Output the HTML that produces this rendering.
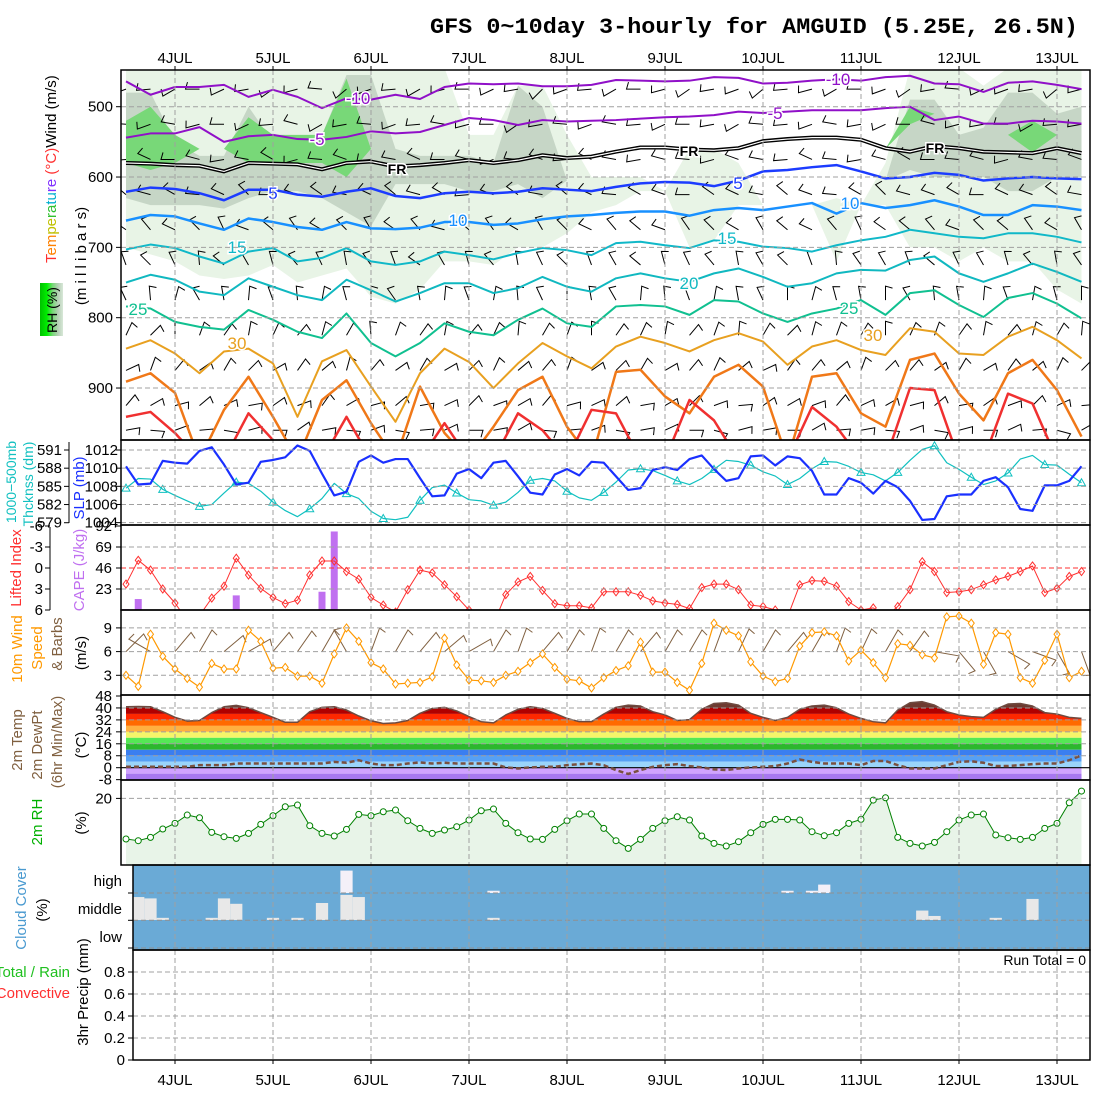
<!DOCTYPE html>
<html><head><meta charset="utf-8"><title>GFS meteogram</title>
<style>
html,body{margin:0;padding:0;background:#fff;}
svg{display:block;font-family:"Liberation Sans",sans-serif;}
</style></head>
<body>
<svg id="chart" width="1100" height="1100" viewBox="0 0 1100 1100" xmlns="http://www.w3.org/2000/svg">
<defs>
<clipPath id="clipMain"><rect x="121" y="70" width="969" height="370"/></clipPath>
<linearGradient id="rhGrad" x1="0" x2="1" y1="0" y2="0">
<stop offset="0" stop-color="#00c000"/><stop offset="0.3" stop-color="#00ee00"/><stop offset="0.55" stop-color="#78d878"/><stop offset="0.8" stop-color="#b8d0b8"/><stop offset="1" stop-color="#d8e8d8"/>
</linearGradient>
</defs>
<text x="430" y="33" font-family="Liberation Mono, monospace" font-weight="bold" font-size="22" textLength="648" lengthAdjust="spacingAndGlyphs">GFS 0~10day 3-hourly for AMGUID (5.25E, 26.5N)</text>
<g id="bg"></g>
<g id="main" clip-path="url(#clipMain)"></g>
<g id="panels"></g>
<g id="grid"></g>
<g id="frames"></g>
<g id="labels"></g>
</svg>
<script>
// ---------- DATA ----------
const days = ['4JUL','5JUL','6JUL','7JUL','8JUL','9JUL','10JUL','11JUL','12JUL','13JUL'];
const pressTicks = [500,600,700,800,900];
const slpTicks = [1012,1010,1008,1006,1004];
const thickTicks = [591,588,585,582,579];
const liTicks = [-6,-3,0,3,6];
const capeTicks = [92,69,46,23];
const windTicks = [9,6,3];
const tempTicks = [48,40,32,24,16,8,0,-8];
const rhTicks = [20];
const precipTicks = [0,0.2,0.4,0.6,0.8];
const cloudLabels = ['high','middle','low'];

const slp = [1010.2,1008.2,1008.3,1010.8,1010.6,1010.5,1011.9,1012.3,1010.4,1008.2,1008.4,1010.7,1010.9,1011.2,1012.5,1011.9,1009.4,1007.0,1007.4,1010.7,1011.4,1010.6,1011.0,
1011.0,1008.9,1006.9,1007.0,1009.4,1009.9,1008.9,1010.6,1010.8,1009.1,1007.3,1007.1,1009.3,1009.9,1009.2,1010.7,1010.6,1009.1,1007.6,1007.8,1009.8,1010.1,1009.8,1011.0,1011.4,1009.9,1008.6,1008.9,
1011.3,1011.4,1010.3,1011.3,1011.1,1009.7,1007.1,1007.1,1008.9,1008.4,1007.2,1008.6,1007.9,1006.4,1004.3,1004.4,1006.9,1007.1,1007.1,1008.6,1009.0,1007.9,1005.5,1005.3,1008.1,1008.1,1008.6,1010.2];
const thick = [584.7,586.3,586.2,584.5,583.5,582.6,581.7,582.0,583.9,585.7,585.5,584.2,582.4,581.0,580.0,581.3,583.0,585.5,583.8,583.0,580.9,579.7,579.5,
579.9,582.7,584.8,585.2,583.9,582.8,582.6,581.9,582.4,584.0,586.0,586.3,585.9,584.2,583.1,582.7,584.0,585.7,587.7,587.9,587.6,586.8,585.9,585.3,586.3,587.8,589.3,589.1,
588.5,587.4,586.7,585.3,586.3,587.9,589.1,589.0,588.3,587.3,586.9,585.9,587.3,589.3,591.1,591.7,588.9,587.8,586.5,585.3,585.9,587.2,589.5,590.1,588.6,588.5,587.0,585.6];
const li = [2.3,-1.1,0.3,3.0,5.0,7.5,6.8,4.3,2.6,-1.4,1.0,2.9,4.2,5.1,4.6,1.0,-1.0,-1.0,0.5,1.6,4.2,5.3,6.3,
3.1,0.3,0.7,2.4,4.1,6.0,8,8,3.8,2.0,1.2,3.2,5.1,5.4,5.4,5.7,3.4,3.4,3.4,3.9,4.7,5.0,5.2,5.8,2.8,2.3,2.3,3.1,
5.3,5.5,6.0,7,2.4,1.8,1.9,2.6,4.8,6.0,5.7,7,5.5,3.1,-0.9,0.5,3.5,3.4,3.1,2.4,1.7,1.2,0.5,-0.3,3.5,2.9,1.2,0.5];
const cape = [1,12,0,0,0,0,0,0,0,16,0,0,0,0,0,0,20,86,0,0,0,0,0,
0,0,0,0,0,0,0,0,0,0,0,0,0,0,0,0,0,0,0,0,0,0,0,0,0,0,0,0,
0,0,0,0,0,0,0,0,0,0,0,0,0,0,0,0,0,0,0,0,0,0,0,0,0,0,0,0];
const wind = [3.0,1.6,8.2,5.4,3.8,2.6,1.5,4.5,3.8,3.8,8.7,7.3,3.9,4.0,2.9,2.9,2.0,5.7,9.0,7.3,4.6,3.8,1.9,
2.0,2.1,2.8,7.7,4.3,2.4,2.3,2.1,3.0,3.5,4.6,5.7,4.0,2.5,2.3,1.4,2.7,3.6,4.2,7.2,3.4,3.4,2.1,1.1,4.5,9.6,8.7,8.0,
4.7,2.9,2.2,2.6,6.7,8.4,8.5,8.0,4.8,6.2,4.6,2.7,7.0,6.8,5.6,5.2,10.4,10.5,9.6,4.4,8.4,8.2,2.7,2.0,4.9,8.2,2.7,3.5];
const windDir10m = [45,300,40,30,50,60,40,35,30,330,20,30,40,50,60,30,20,40,30,20,30,40,30,30,20,25,30,40,30,20,25,30,35,100,140,150,120,110,150,160];
const temp = [40.8,41,40.8,37.5,33.7,31.2,31.6,36.9,40.8,41.7,40.1,36.9,33.7,30.4,30.4,37.5,40.4,40.8,38.6,34.6,31.4,29.6,30.0,
31.6,36.4,39.7,40.4,38,34.2,30.8,30.0,35.3,39.1,40.8,39.7,36.4,33,30.8,30.8,35.9,40.4,41.9,41.3,37.5,35.3,31.6,32.2,39.1,43,43.5,41.9,
36.4,33.7,31.6,33.7,39.1,41.3,41.9,40.1,35.9,33,30.8,30,38.6,43.5,44.2,41.9,37.5,35.3,34.2,33.7,39.1,42.6,43,41.3,36.9,35.9,33.7,33];
const dew = [0.6,0.6,0.6,0.6,0.6,0.6,1.7,1.7,1.7,2.8,2.8,2.8,2.8,2.8,2.8,2.8,2.8,3.9,3.3,5.0,2.8,1.7,1.7,
2.8,3.5,2.8,3.3,2.8,2.8,2.8,2.8,0.2,-0.5,0.2,0.6,0.6,1.7,2.4,2.8,1.7,-1.6,-4.2,-1.6,0.6,1.7,2.4,1.1,0.2,-1.1,-1.6,-0.5,
0.2,0.6,1.1,2.8,5.5,3.9,2.8,2.8,2.8,1.7,4.5,4.5,1.7,-0.5,-0.5,-0.5,1.7,3.9,4.3,3.3,1.1,1.1,1.7,2.4,2.8,2.8,5.0,8.3];
const rh2m = [7.8,7.3,8.3,10.8,12.5,15,14.2,9.8,8.5,8,9.5,12.2,14.8,17.5,18,11.8,9.5,8.7,10.7,15.2,14.8,16,16.5,
13.3,11,9.5,10.5,11.5,13.5,16.3,16.8,12.5,9.7,7.8,7.7,10.7,13.3,15.3,15.3,11,7.3,5,7.7,11,13.3,14.5,13.5,8.7,6.5,5.7,7,
9.7,12.2,13.7,13.7,13.5,10,8.8,9.7,12.5,13.7,19.5,20.2,8.3,6.5,5.7,6.8,10,13.5,15,15.3,9,8.2,7.7,8.3,11,12.5,18.7,22.2];
const midCloud = [0,.85,.8,.08,0,0,0,.08,.8,.6,0,0,.08,0,.08,0,.63,0,.93,.85,0,0,0,0,0,0,0,0,0,0,.08,0,0,0,0,0,0,0,0,0,
0,0,0,0,0,0,0,0,0,0,0,0,0,0,0,0,0,0,0,0,0,0,0,0,0,.35,.15,0,0,0,0,.08,0,0,.78,0,0,0,0];
const highCloud = [0,0,0,0,0,0,0,0,0,0,0,0,0,0,0,0,0,0,.8,0,0,0,0,0,0,0,0,0,0,0,.08,0,0,0,0,0,0,0,0,0,
0,0,0,0,0,0,0,0,0,0,0,0,0,0,.08,0,.08,.3,0,0,0,0,0,0,0,0,0,0,0,0,0,0,0,0,0,0,0,0,0];

// isotherm pressures (mb) every 6 hours
const isoM10 = [464,483,472,472,469,486,476,486,502,488,490,483,489,472,467,468,467,471,471,469,462,463,464,463,458,459,467,466,463,461,463,458,456,467,468,479,466,464,469,475];
const isoM5 = [544,538,538,529,550,542,540,546,547,543,535,538,536,526,516,519,526,519,521,520,519,517,515,514,512,507,509,507,505,505,505,502,500,519,514,524,524,520,521,524];
const isoFR = [580,581,583,584,592,580,581,582,589,580,578,585,583,580,576,580,576,569,573,571,564,558,558,561,562,559,549,546,544,544,547,559,564,556,559,564,565,566,559,566];
const iso5 = [621,615,617,623,633,618,618,625,628,621,616,627,630,623,621,623,621,616,618,620,614,609,607,608,613,605,592,590,586,583,592,602,600,594,597,605,602,600,602,603];
const iso10 = [662,654,656,666,675,659,664,671,675,664,673,674,672,664,664,668,666,660,656,654,651,649,649,655,647,644,647,642,637,652,637,644,640,633,642,654,654,640,642,647];
const iso15 = [703,696,701,713,723,706,701,720,715,701,720,725,720,706,711,717,708,701,704,711,694,692,697,701,690,692,699,701,706,697,690,685,675,680,685,687,680,680,685,693];
const iso20 = [750,739,746,763,768,744,756,768,775,746,761,777,765,751,751,765,758,742,756,763,744,737,744,749,737,730,742,756,751,737,732,733,718,713,737,749,737,723,735,749];
const iso25 = [784,787,806,813,817,789,803,820,829,794,836,855,836,808,820,825,803,787,808,813,784,782,784,796,775,777,794,806,794,787,775,796,765,761,782,799,772,765,780,801];
const iso30 = [844,832,851,879,848,844,865,941,862,846,898,948,879,844,863,900,865,836,855,872,841,827,836,848,832,822,834,867,841,832,846,853,815,820,851,853,827,813,832,858];
const iso35 = [891,879,907,1002,931,884,941,1002,917,889,950,1002,898,964,1002,955,903,884,955,1002,877,874,912,936,884,867,898,1002,884,879,936,955,860,851,908,946,879,860,903,969];
const iso40 = [941,934,964,1002,1002,936,974,1002,1002,941,1002,1002,1002,950,1002,1002,936,960,1002,931,936,1002,1002,917,946,1002,1002,1002,927,955,1002,1002,900,903,1002,1002,908,922,1002,1002];

// RH shading boundaries (mb) every 6 hours
const rh30Top = [445,445,445,445,445,445,445,445,445,445,445,445,445,445,540,540,470,470,540,600,600,600,620,560,560,580,640,640,640,630,640,580,445,445,445,470,445,445,445,445];
const rh30Bot = [700,710,720,740,745,740,725,750,740,730,770,780,760,720,720,725,700,700,680,650,640,620,620,700,690,640,640,640,640,720,640,640,700,700,720,700,720,720,760,780];
const rh50Top = [480,480,550,570,570,500,550,550,540,455,455,560,570,570,570,580,470,500,605,605,605,605,605,605,605,605,605,605,605,605,605,605,490,490,540,530,480,480,510,500];
const rh50Bot = [630,640,640,640,645,630,620,620,630,650,670,610,610,610,620,620,610,630,605,605,605,605,605,605,605,605,605,605,605,605,605,605,590,600,600,600,620,620,600,600];
const rh70Top = [520,500,540,560,560,515,540,540,540,460,560,560,560,560,560,560,560,560,560,560,560,560,560,560,560,560,560,560,560,560,560,560,500,510,540,540,540,520,540,540];
const rh70Bot = [580,590,580,560,560,580,580,580,580,600,560,560,560,560,560,560,560,560,560,560,560,560,560,560,560,560,560,560,560,560,560,560,525,510,540,540,540,565,540,540];

const barbLevels = [475,525,575,625,675,725,775,825,875,925,960];
const barbDirs = [250,260,275,290,310,330,350,20,40,60,80];
const barbShift = [0,15,-10,20,-5,10,-15,5,25,-20,0,15,-10,5,20,-5,10,-25,0,15,-10,20,5,-15,10,0,-20,15,5,-10,20,0,-15,10,25,-5,0,10,-20,5];

const contourLabels = [['-10',358,104,'#9010c8'],['-10',838,85,'#9010c8'],['-5',317,145,'#9010c8'],['-5',775,119,'#9010c8'],['FR',397,174,'#000'],['FR',689,156,'#000'],['FR',935,153,'#000'],
['5',273,199,'#1c3cff'],['5',738,189,'#1c3cff'],['10',458,226,'#1890ff'],['10',850,209,'#1890ff'],['15',237,253,'#10b8c8'],['15',727,244,'#10b8c8'],['20',689,289,'#10b8c0'],['25',138,315,'#10c090'],['25',849,314,'#10c090'],['30',237,349,'#e8a020'],['30',873,341,'#e8a020']];

// ---------- SCALES ----------
const X0=126, DX=12.25;
function xI(i){return X0+i*DX;}
function xK(k){return X0+k*2*DX;}
function yP(p){return 106.7+(p-500)*0.7033;}
function ySLP(v){return 450+(1012-v)*9.08;}
function yTh(v){return 450+(591-v)*6.06;}
function yLI(v){return 568+7*v;}
function yCape(v){return 610-v*84/92;}
function yW(v){return 699-7.9*v;}
function yT(v){return 767.7-1.494*v;}
function yRH(v){return 865-3.33*v;}
function yPr(v){return 1060-110*v;}

const NS='http://www.w3.org/2000/svg';
function el(tag,attrs,parent){const e=document.createElementNS(NS,tag);for(const k in attrs)e.setAttribute(k,attrs[k]);parent.appendChild(e);return e;}
const G={bg:document.getElementById('bg'),main:document.getElementById('main'),panels:document.getElementById('panels'),grid:document.getElementById('grid'),frames:document.getElementById('frames'),labels:document.getElementById('labels')};

// ---------- MAIN PANEL ----------
function band(top,bot,color,name){
  let pts=[];
  for(let k=0;k<top.length;k++)pts.push(xK(k)+','+yP(top[k]));
  for(let k=bot.length-1;k>=0;k--)pts.push(xK(k)+','+yP(bot[k]));
  const p=el('polygon',{points:pts.join(' '),fill:color,stroke:'none'},G.main);
  
  
}
band(rh30Top,rh30Bot,'#e8f4e6','rh-30-shading');
band(rh50Top,rh50Bot,'#c6d6c6','rh-50-shading');
band(rh70Top,rh70Bot,'#78d878','rh-70-shading');

// barbs
function barb(x,y,dir,len,color,parent,name){
  const r=dir*Math.PI/180;
  const ex=x+len*Math.sin(r), ey=y-len*Math.cos(r);
  const bx=ex+7*Math.sin(r+Math.PI/2)-2*Math.sin(r), by=ey-7*Math.cos(r+Math.PI/2)+2*Math.cos(r);
  const g=el('path',{d:`M${x},${y}L${ex},${ey}L${bx},${by}`,stroke:color,'stroke-width':1,fill:'none'},parent);
  
  
}
for(let k=0;k<40;k++){
  for(let l=0;l<barbLevels.length;l++){
    barb(xK(k),yP(barbLevels[l]),barbDirs[l]+barbShift[(k+l)%barbShift.length],14,'#000',G.main,'upper-wind-barb');
  }
}
function iso(arr,color,name,w){
  const d=arr.map((p,k)=>(k?'L':'M')+xK(k)+','+yP(p)).join('');
  const e=el('path',{d:d,stroke:color,'stroke-width':w||2,fill:'none','stroke-linejoin':'round'},G.main);
  
  
  return d;
}
iso(isoM10,'#9010c8','isotherm-minus10');
iso(isoM5,'#9010c8','isotherm-minus5');
const frd=iso(isoFR,'#000','freezing-level',4);
const fri=el('path',{d:frd,stroke:'#fff','stroke-width':1.2,fill:'none'},G.main);


iso(iso5,'#1c3cff','isotherm-5',2.5);
iso(iso10,'#1890ff','isotherm-10',2.5);
iso(iso15,'#10b8c8','isotherm-15');
iso(iso20,'#10b8c0','isotherm-20');
iso(iso25,'#10c090','isotherm-25');
iso(iso30,'#e8a020','isotherm-30');
iso(iso35,'#f07818','isotherm-35',2.5);
iso(iso40,'#f03030','isotherm-40',2.5);
contourLabels.forEach(c=>{
  const t=el('text',{x:c[1],y:c[2],fill:c[3],'font-size':c[0]=='FR'?14:17,'font-weight':c[0]=='FR'?'bold':'normal','text-anchor':'middle',stroke:'#fff','stroke-width':3,'paint-order':'stroke'},G.main);
  t.textContent=c[0];
  
  
});

// ---------- SLP / THICKNESS ----------
function polyline(arr,fy,color,w,name,parent){
  const d=arr.map((v,i)=>(i?'L':'M')+xI(i)+','+fy(v)).join('');
  const e=el('path',{d:d,stroke:color,'stroke-width':w,fill:'none','stroke-linejoin':'round'},parent||G.panels);
  
  
}
polyline(thick,yTh,'#10c0c0',1.2,'thickness-line');
thick.forEach((v,i)=>{if(i%3!==0)return;const x=xI(i),y=yTh(v);
  const m=el('polygon',{points:`${x},${y-4} ${x-4},${y+3} ${x+4},${y+3}`,fill:'none',stroke:'#10c0c0','stroke-width':1},G.panels);
  
  
});
polyline(slp,ySLP,'#1a30ff',2.2,'slp-line');

// ---------- LI / CAPE ----------
cape.forEach((v,i)=>{if(v<=0)return;
  const r=el('rect',{x:xI(i)-3.5,y:yCape(v),width:7,height:610-yCape(v),fill:'#c070f0'},G.panels);
  
  
});
const liClip=el('clipPath',{id:'clipLI'},document.querySelector('defs'));
el('rect',{x:121,y:525,width:969,height:85},liClip);
const liG=el('g',{'clip-path':'url(#clipLI)'},G.panels);


polyline(li,yLI,'#ff3030',1,'lifted-index-line',liG);
li.forEach((v,i)=>{const x=xI(i),y=yLI(v);
  const m=el('polygon',{points:`${x},${y-4} ${x+3},${y} ${x},${y+4} ${x-3},${y}`,fill:'none',stroke:'#ff3030','stroke-width':1},liG);
  
  
});

// ---------- 10m WIND ----------
windDir10m.forEach((d,k)=>{barb(xK(k),yW(6),d,25,'#806040',G.panels,'surface-wind-barb');});
polyline(wind,yW,'#ff9900',1.2,'wind-speed-line');
wind.forEach((v,i)=>{const x=xI(i),y=yW(v);
  const m=el('polygon',{points:`${x},${y-4} ${x+3},${y} ${x},${y+4} ${x-3},${y}`,fill:'#fff',stroke:'#ff9900','stroke-width':1},G.panels);
  
  
});

// ---------- TEMPERATURE ----------
const tClip=el('clipPath',{id:'clipT'},document.querySelector('defs'));
let tp=temp.map((v,i)=>xI(i)+','+yT(v));
tp.push(xI(temp.length-1)+',780');tp.push(xI(0)+',780');
el('polygon',{points:tp.join(' ')},tClip);
const tG=el('g',{'clip-path':'url(#clipT)'},G.panels);


const tBands=[[40,48,'#6e3a30'],[36,40,'#b00000'],[32,36,'#ff2800'],[28,32,'#ff6a00'],[24,28,'#ffb040'],[20,24,'#f5f56a'],[16,20,'#55e855'],[12,16,'#2cb82c'],[8,12,'#3a7ef0'],[4,8,'#55a0f5'],[0,4,'#9ad4fa'],[-4,0,'#d1a3ff'],[-8,-4,'#a878f0']];
tBands.forEach(b=>{
  const r=el('rect',{x:121,y:yT(b[1]),width:969,height:yT(b[0])-yT(b[1]),fill:b[2]},tG);
  
  
});
polyline(temp,yT,'#6e4a40',1.5,'temperature-line');
const zl=el('line',{x1:121,x2:1090,y1:yT(0),y2:yT(0),stroke:'#000','stroke-width':1.2},G.panels);


const dwd=dew.map((v,i)=>(i?'L':'M')+xI(i)+','+yT(v)).join('');
const dw=el('path',{d:dwd,stroke:'#7a5040','stroke-width':2.5,fill:'none','stroke-dasharray':'5,3'},G.panels);



// ---------- 2m RH ----------
let rp=rh2m.map((v,i)=>xI(i)+','+yRH(v));
rp.push(xI(rh2m.length-1)+',865');rp.push(xI(0)+',865');
const ra=el('polygon',{points:rp.join(' '),fill:'#e8f4e8'},G.panels);


polyline(rh2m,yRH,'#008000',1,'rh-line');
rh2m.forEach((v,i)=>{
  const c=el('circle',{cx:xI(i),cy:yRH(v),r:3,fill:'#fff',stroke:'#008000','stroke-width':1},G.panels);
  
  
});

// ---------- CLOUD ----------
const cb=el('rect',{x:133,y:865,width:957,height:85,fill:'#6aaad6'},G.panels);


midCloud.forEach((v,i)=>{if(v<=0)return;const x0=Math.max(133,xI(i)-DX/2);
  const r=el('rect',{x:x0,y:920-27*v,width:xI(i)+DX/2-x0,height:27*v,fill:'#e8e8e8'},G.panels);
  
  
});
highCloud.forEach((v,i)=>{if(v<=0)return;
  const r=el('rect',{x:xI(i)-DX/2,y:893-28*v,width:DX,height:28*v,fill:'#f4f0f8'},G.panels);
  
  
});

// ---------- GRID ----------
function hgrid(y,x1,color){const l=el('line',{x1:x1||121,x2:1090,y1:y,y2:y,stroke:color||'#a0a0a0','stroke-width':1,'stroke-dasharray':'5,3'},G.grid);
  }
pressTicks.forEach(p=>hgrid(yP(p)));
slpTicks.forEach(v=>hgrid(ySLP(v)));
[-3,3].forEach(v=>hgrid(yLI(v)));
hgrid(yLI(0),121,'#ff3030');
windTicks.forEach(v=>hgrid(yW(v)));
[40,32,24,16,8].forEach(v=>hgrid(yT(v)));
rhTicks.forEach(v=>hgrid(yRH(v)));
[893,920.3,948].forEach(v=>hgrid(v,133,'#909090'));
precipTicks.slice(1).forEach(v=>hgrid(yPr(v),133));
days.forEach((d,j)=>{const x=xI(4+8*j);
  const l=el('line',{x1:x,x2:x,y1:70,y2:1060,stroke:'#a0a0a0','stroke-width':1,'stroke-dasharray':'5,3'},G.grid);
  
  [[66,70],[1060,1064]].forEach(t=>el('line',{x1:x,x2:x,y1:t[0],y2:t[1],stroke:'#000'},G.grid));
  const t1=el('text',{x:x,y:63,'font-size':15,'text-anchor':'middle'},G.labels);t1.textContent=d;
  
  const t2=el('text',{x:x,y:1085,'font-size':15,'text-anchor':'middle'},G.labels);t2.textContent=d;
  
});

// ---------- FRAMES ----------
[[121,70,969,370],[121,440,969,85],[121,525,969,85],[121,610,969,85],[121,695,969,85],[121,780,969,85],[133,865,957,85],[133,950,957,110]].forEach((f,n)=>{
  const r=el('rect',{x:f[0],y:f[1],width:f[2],height:f[3],fill:'none',stroke:'#000','stroke-width':1.5},G.frames);
  
});
el('line',{x1:69,x2:69,y1:442,y2:523,stroke:'#000'},G.frames);
el('line',{x1:50,x2:50,y1:527,y2:610,stroke:'#000'},G.frames);

// ---------- TICK LABELS ----------
function tick(txt,x,y,axisX,color){
  const t=el('text',{x:x,y:y+5,'font-size':15,'text-anchor':'end',fill:color||'#000'},G.labels);t.textContent=txt;
  
  el('line',{x1:axisX-5,x2:axisX,y1:y,y2:y,stroke:'#000'},G.labels);
}
pressTicks.forEach(p=>tick(p,113,yP(p),121));
slpTicks.forEach(v=>tick(v,118,ySLP(v),121));
thickTicks.forEach(v=>tick(v,62,yTh(v),69));
liTicks.forEach(v=>tick(v,43,yLI(v),50));
capeTicks.forEach(v=>tick(v,112,yCape(v),121));
windTicks.forEach(v=>tick(v,112,yW(v),121));
tempTicks.forEach(v=>tick(v,112,yT(v),121));
rhTicks.forEach(v=>tick(v,112,yRH(v),121));
cloudLabels.forEach((s,j)=>{const t=el('text',{x:122,y:886+28*j,'font-size':15,'text-anchor':'end'},G.labels);t.textContent=s;
  });
[893,920.3,948].forEach(y=>el('line',{x1:128,x2:133,y1:y,y2:y,stroke:'#000'},G.labels));
precipTicks.forEach(v=>tick(v,125,yPr(v),133));

// ---------- AXIS TITLES ----------
function vtitle(parts,x,y,size,name,anchor){
  const t=el('text',{transform:`translate(${x},${y}) rotate(-90)`,'font-size':size||15,'text-anchor':anchor||'middle'},G.labels);
  parts.forEach(p=>{const s=el('tspan',{fill:p[1]},t);s.textContent=p[0];});
  
}
const rb=el('rect',{x:40,y:283,width:23,height:53,fill:'url(#rhGrad)'},G.labels);

vtitle([['RH (%)','#000']],57,310,14,'rh-key-label');
vtitle([['T','#ff3030'],['em','#ff8000'],['pe','#c0c000'],['ra','#30c030'],['tu','#00b0d0'],['re','#8030ff'],[' (°C)','#ff3030'],['Wind (m/s)','#000']],56,263,15,'main-y-title','start');
vtitle([['(m i l l i b a r s)','#000']],86,256,15,'pressure-axis-title');
vtitle([['1000−500mb','#10c0c0']],16,482,14,'thickness-title');
vtitle([['Thcknss (dm)','#10c0c0']],33,484,14,'thickness-units');
vtitle([['SLP (mb)','#1a30ff']],84,488,15,'slp-title');
vtitle([['Lifted Index','#ff3030']],21,568,15,'lifted-index-title');
vtitle([['CAPE (J/kg)','#c070f0']],84,570,15,'cape-title');
vtitle([['10m Wind','#ff9900']],22,649,15,'wind-title');
vtitle([['Speed','#ff9900']],42,648,15,'wind-speed-title');
vtitle([['& Barbs','#806040']],62,644,15,'wind-barbs-title');
vtitle([['(m/s)','#000']],86,653,15,'wind-units');
vtitle([['2m Temp','#806040']],22,740,15,'temp-title');
vtitle([['2m DewPt','#806040']],42,745,15,'dewpoint-title');
vtitle([['(6hr Min/Max)','#806040']],62,742,15,'minmax-title');
vtitle([['(°C)','#000']],86,745,15,'temp-units');
vtitle([['2m RH','#00b000']],42,822,15,'rh-title');
vtitle([['(%)','#000']],86,823,15,'rh-units');
vtitle([['Cloud Cover','#4a9ad0']],26,908,15,'cloud-title');
vtitle([['(%)','#000']],47,910,15,'cloud-units');
vtitle([['3hr Precip (mm)','#000']],88,992,15,'precip-title');
const pt1=el('text',{x:70,y:977,'font-size':15,'text-anchor':'end',fill:'#20c020'},G.labels);pt1.textContent='Total / Rain';

const pt2=el('text',{x:70,y:998,'font-size':15,'text-anchor':'end',fill:'#ff3030'},G.labels);pt2.textContent='Convective';

const rt=el('text',{x:1086,y:965,'font-size':14,'text-anchor':'end'},G.labels);rt.textContent='Run Total = 0';

</script>
</body></html>
